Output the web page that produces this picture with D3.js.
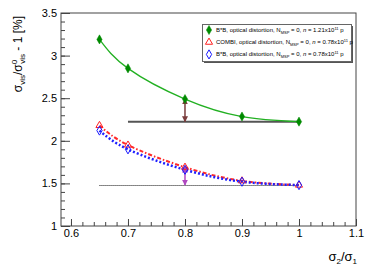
<!DOCTYPE html>
<html>
<head>
<meta charset="utf-8">
<script src="https://cdn.jsdelivr.net/npm/d3@7"></script>
<style>
  body { margin: 0; background: #fff; }
  svg { font-family: "Liberation Sans", Arial, sans-serif; }
</style>
</head>
<body>
<div id="chart"></div>
<script>
// ratio sigma2/sigma1
const ratios = [0.65, 0.7, 0.8, 0.9, 1.0];
// B*B, n = 1.21e11
const bbHigh = [3.19, 2.85, 2.49, 2.285, 2.225];
// COMBI, n = 0.78e11
const combi = [2.18, 1.95, 1.69, 1.53, 1.48];
// B*B, n = 0.78e11
const bbLow = [2.12, 1.90, 1.66, 1.52, 1.48];

// reference levels (value at sigma2/sigma1 = 1)
const refHigh = {from: 0.7, to: 1.0, value: 2.225};
const refLow = {from: 0.65, to: 1.0, value: 1.48};
// arrows at 0.8
const arrowX = 0.8;
const arrowHigh = [2.49, 2.225];
const arrowLow = [1.69, 1.48];

const xTicks = [0.6, 0.7, 0.8, 0.9, 1, 1.1];
const yTicks = [1, 1.5, 2, 2.5, 3, 3.5];

const legendRows = [
  {label: "B*B, optical distortion, N", n: "1.21", color: "#008a00", type: "fdiamond"},
  {label: "COMBI, optical distortion, N", n: "0.78", color: "#ff2020", type: "triangle"},
  {label: "B*B, optical distortion, N", n: "0.78", color: "#1a1aff", type: "odiamond"}
];

const width = 374, height = 270;
const margin = {top: 13, right: 18, bottom: 44, left: 61};

const svg = d3.select("#chart").append("svg")
    .attr("width", width)
    .attr("height", height);

const x = d3.scaleLinear().domain([0.5825, 1.1]).range([margin.left, width - margin.right]);
const y = d3.scaleLinear().domain([1, 3.5]).range([height - margin.bottom, margin.top]);

const frame = "#444";

// arrow heads
const defs = svg.append("defs");
function head(id, color) {
  defs.append("marker")
      .attr("id", id)
      .attr("viewBox", "0 0 10 10")
      .attr("refX", 9).attr("refY", 5)
      .attr("markerWidth", 4).attr("markerHeight", 4)
      .attr("orient", "auto-start-reverse")
    .append("path")
      .attr("d", "M0,0L10,5L0,10z")
      .attr("fill", color);
}
head("ahBrown", "#7a3c3c");
head("ahPurple", "#b048c0");

// frame
svg.append("rect")
    .attr("x", x.range()[0]).attr("y", margin.top)
    .attr("width", x.range()[1] - x.range()[0])
    .attr("height", y.range()[0] - margin.top)
    .attr("fill", "none")
    .attr("stroke", frame);

// x axis
svg.append("g")
    .attr("transform", `translate(0,${y.range()[0]})`)
    .call(d3.axisBottom(x).tickValues(d3.range(0.6, 1.1001, 0.02)).tickSize(-4).tickFormat(""))
    .call(g => g.select(".domain").remove())
    .call(g => g.selectAll("line").attr("stroke", frame));
svg.append("g")
    .attr("transform", `translate(0,${y.range()[0]})`)
    .call(d3.axisBottom(x).tickValues(xTicks).tickSize(-7).tickPadding(3).tickFormat(d3.format("")))
    .call(g => g.select(".domain").remove())
    .call(g => g.selectAll("line").attr("stroke", frame))
    .call(g => g.selectAll("text").attr("font-size", 11).attr("fill", "#000")
        .attr("font-family", "Liberation Sans, Arial, sans-serif"));

// y axis
svg.append("g")
    .attr("transform", `translate(${x.range()[0]},0)`)
    .call(d3.axisLeft(y).tickValues(d3.range(1, 3.5001, 0.1)).tickSize(-4).tickFormat(""))
    .call(g => g.select(".domain").remove())
    .call(g => g.selectAll("line").attr("stroke", frame));
svg.append("g")
    .attr("transform", `translate(${x.range()[0]},0)`)
    .call(d3.axisLeft(y).tickValues(yTicks).tickSize(-9).tickPadding(4).tickFormat(d3.format("")))
    .call(g => g.select(".domain").remove())
    .call(g => g.selectAll("line").attr("stroke", frame))
    .call(g => g.selectAll("text").attr("font-size", 11).attr("fill", "#000")
        .attr("font-family", "Liberation Sans, Arial, sans-serif"));

// axis titles
const xt = svg.append("text")
    .attr("x", x.range()[1] + 1).attr("y", 261)
    .attr("text-anchor", "end")
    .attr("font-size", 13);
xt.append("tspan").text("σ");
xt.append("tspan").attr("font-size", 8).attr("dy", 3).text("2");
xt.append("tspan").attr("dy", -3).text("/σ");
xt.append("tspan").attr("font-size", 8).attr("dy", 3).text("1");

const yt = svg.append("text")
    .attr("transform", `translate(22,${margin.top + 3}) rotate(-90)`)
    .attr("text-anchor", "end")
    .attr("font-size", 12);
yt.append("tspan").text("σ");
yt.append("tspan").attr("font-size", 8).attr("dy", 3).text("vis");
yt.append("tspan").attr("dy", -3).text("/σ");
yt.append("tspan").attr("font-size", 8).attr("dy", -5).text("0");
yt.append("tspan").attr("font-size", 8).attr("dx", -4).attr("dy", 8).text("vis");
yt.append("tspan").attr("dy", -3).text(" - 1 [%]");

// reference lines
svg.append("line")
    .attr("x1", x(refHigh.from)).attr("x2", x(refHigh.to))
    .attr("y1", y(refHigh.value)).attr("y2", y(refHigh.value))
    .attr("stroke", "#555").attr("stroke-width", 2);
svg.append("line")
    .attr("x1", x(refLow.from)).attr("x2", x(refLow.to))
    .attr("y1", Math.round(y(refLow.value)) + 0.5).attr("y2", Math.round(y(refLow.value)) + 0.5)
    .attr("stroke", "#111").attr("stroke-width", 1).attr("stroke-dasharray", "1,1");

// fitted curves
const line = d3.line()
    .x((d, i) => x(ratios[i]))
    .y(d => y(d))
    .curve(d3.curveNatural);

svg.append("path").datum(bbHigh)
    .attr("d", line).attr("fill", "none")
    .attr("stroke", "#22b022").attr("stroke-width", 1.3);
svg.append("path").datum(combi)
    .attr("d", line).attr("fill", "none")
    .attr("stroke", "#ff2a2a").attr("stroke-width", 2)
    .attr("stroke-dasharray", "4,2,1.5,2");
svg.append("path").datum(bbLow)
    .attr("d", line).attr("fill", "none")
    .attr("stroke", "#2020ff").attr("stroke-width", 2.5)
    .attr("stroke-dasharray", "2,2");

// arrows
function arrow(vals, color, id) {
  svg.append("line")
      .attr("x1", x(arrowX)).attr("x2", x(arrowX))
      .attr("y1", y(vals[0])).attr("y2", y(vals[1]))
      .attr("stroke", color).attr("stroke-width", 1.5)
      .attr("marker-start", `url(#${id})`)
      .attr("marker-end", `url(#${id})`);
}
arrow(arrowHigh, "#7a3c3c", "ahBrown");
arrow(arrowLow, "#b048c0", "ahPurple");

// markers
const diamond = d3.symbol().type(d3.symbolDiamond).size(24);
const triangle = d3.symbol().type(d3.symbolTriangle).size(22);

function markers(vals, type, color) {
  const g = svg.append("g");
  g.selectAll("path")
    .data(vals)
    .join("path")
      .attr("transform", (d, i) => `translate(${x(ratios[i])},${y(d)})`)
      .attr("d", type === "triangle" ? triangle : diamond)
      .attr("fill", type === "fdiamond" ? color : "none")
      .attr("stroke", color)
      .attr("stroke-width", type === "fdiamond" ? 0.5 : 1);
}
markers(bbHigh, "fdiamond", legendRows[0].color);
markers(combi, "triangle", legendRows[1].color);
markers(bbLow, "odiamond", legendRows[2].color);

// legend
const lg = svg.append("g");
lg.append("rect")
    .attr("x", 204).attr("y", 26).attr("width", 149).attr("height", 37)
    .attr("fill", "#555");
lg.append("rect")
    .attr("x", 202.5).attr("y", 24.5).attr("width", 149).attr("height", 37)
    .attr("fill", "#fff").attr("stroke", "#666");

legendRows.forEach((r, i) => {
  const cy = 30 + i * 12.2;
  lg.append("path")
      .attr("transform", `translate(209,${cy})`)
      .attr("d", r.type === "triangle" ? triangle : diamond)
      .attr("fill", r.type === "fdiamond" ? r.color : "none")
      .attr("stroke", r.color)
      .attr("stroke-width", r.type === "fdiamond" ? 0.5 : 1);
  const t = lg.append("text")
      .attr("x", 216).attr("y", cy + 2)
      .attr("font-size", 6);
  t.append("tspan").text(r.label);
  t.append("tspan").attr("font-size", 4).attr("dy", 2).text("MSP");
  t.append("tspan").attr("dy", -2).text(" = 0,  ");
  t.append("tspan").attr("font-style", "italic").text("n");
  t.append("tspan").text(" = " + r.n + "x10");
  t.append("tspan").attr("font-size", 4).attr("dy", -2.5).text("11");
  t.append("tspan").attr("dy", 2.5).text(" p");
});
</script>
</body>
</html>
